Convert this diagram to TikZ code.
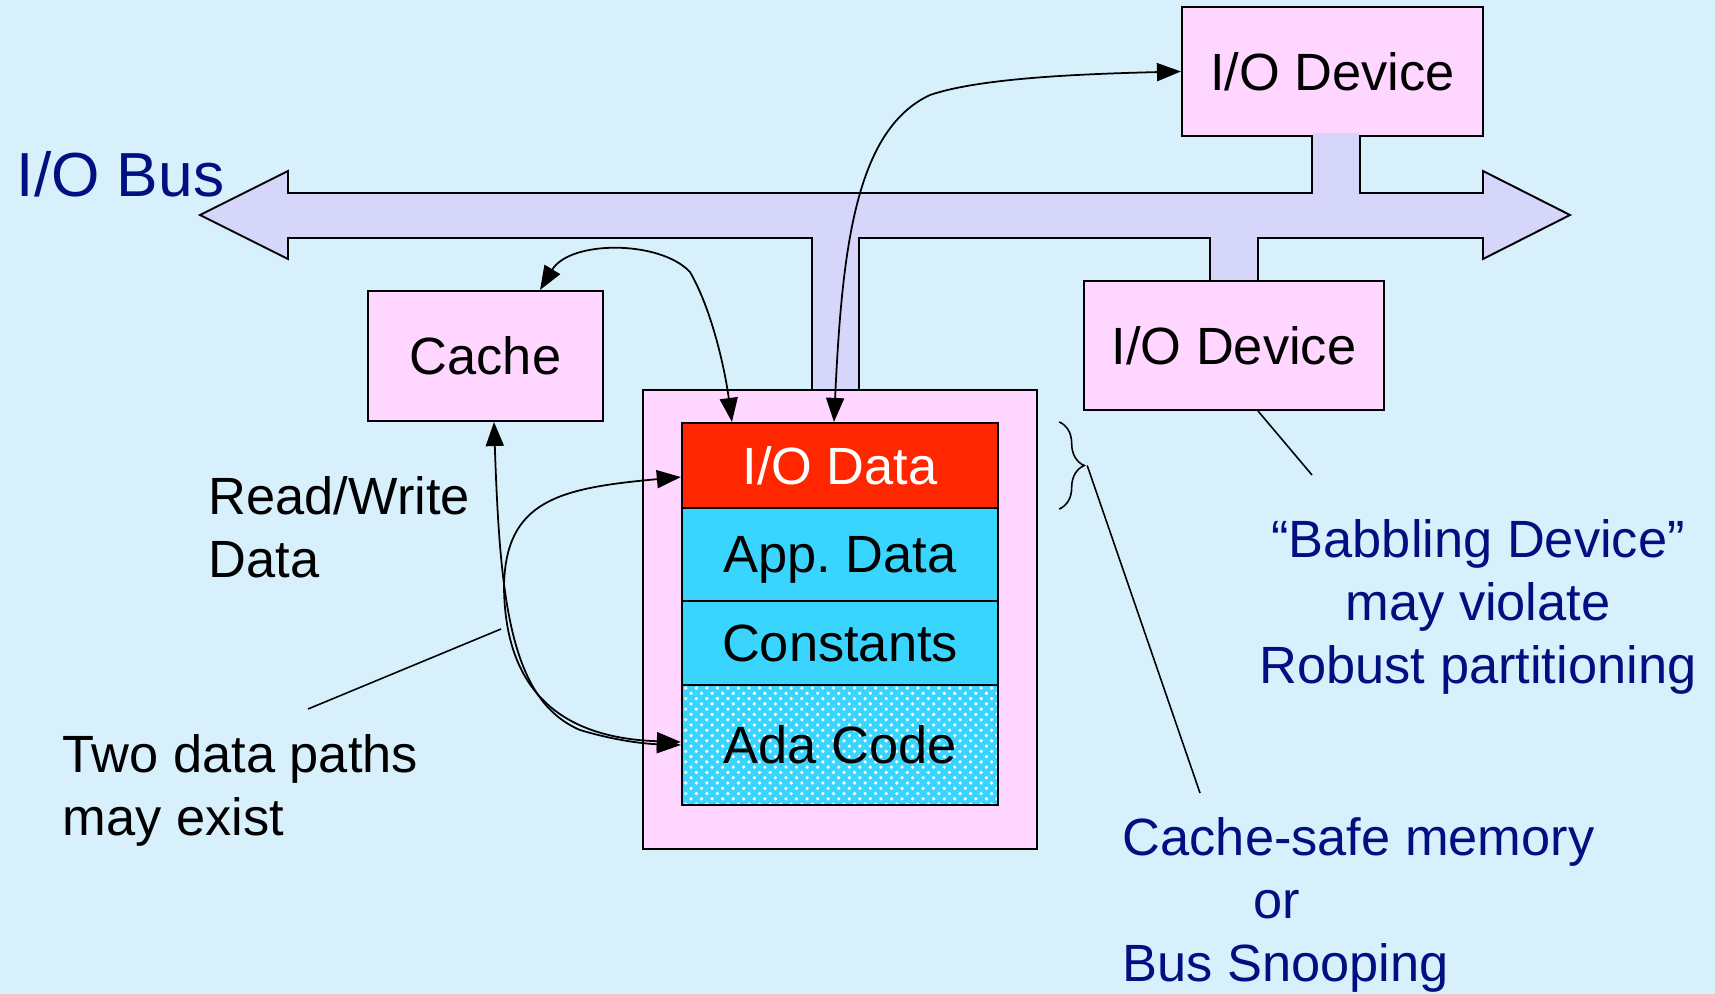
\documentclass[tikz,border=0pt]{standalone}
\usepackage{fontspec}
\setmainfont{Liberation Sans}
\usepackage{xcolor}
\usetikzlibrary{calc,arrows.meta,patterns,decorations.pathreplacing}
\definecolor{bgblue}{RGB}{216,240,252}
\definecolor{boxpink}{RGB}{255,214,255}
\definecolor{buslav}{RGB}{214,214,250}
\definecolor{iored}{RGB}{255,38,0}
\definecolor{segcyan}{RGB}{58,213,255}
\definecolor{notenavy}{RGB}{0,16,128}

\begin{document}
\begin{tikzpicture}[x=0.01cm, y=-0.01cm,
    box/.style={draw=black, line width=0.55pt, fill=boxpink, inner sep=0pt, font=\fontsize{14.9}{17.9}\selectfont},
    seg/.style={draw=black, line width=0.6pt, inner sep=0pt, text depth=0pt, minimum width=3.16cm, font=\fontsize{14.9}{17.9}\selectfont},
    note/.style={inner sep=0pt, align=left, font=\fontsize{14.9}{17.9}\selectfont},
    conn/.style={line width=0.5pt, {Triangle[length=0.24cm,width=0.18cm]}-{Triangle[length=0.24cm,width=0.18cm]}},
    lead/.style={line width=0.45pt}]
        \fill[bgblue] (0,0) rectangle (1715,994);
        \useasboundingbox (0,0) rectangle (1715,994);
        \draw[line width=0.55pt, fill=buslav] (200,215) -- (288,171) -- (288,193) -- (1312,193) -- (1312,136) -- (1360,136) -- (1360,193) -- (1483,193) -- (1483,171) -- (1570,215) -- (1483,259) -- (1483,238) -- (1258,238) -- (1258,281) -- (1210,281) -- (1210,238) -- (859,238) -- (859,390) -- (812,390) -- (812,238) -- (288,238) -- (288,259) -- cycle;
        \node[box, minimum width=3.01cm, minimum height=1.29cm] (devTop) at (1332.5,71.5) {I/O Device};
        \fill[buslav] (1313,133) rectangle (1359,139);
        \node[box, minimum width=3.00cm, minimum height=1.29cm] (devBot) at (1234,345.5) {I/O Device};
        \node[box, minimum width=2.35cm, minimum height=1.30cm] (cache) at (485.5,356) {Cache};
        \node[box, minimum width=3.94cm, minimum height=4.59cm] (mem) at (840,619.5) {};
        \node[seg, fill=iored, text=white, minimum height=0.85cm] (iodata) at (840,465.5) {I/O Data};
        \node[seg, fill=segcyan, minimum height=0.93cm] (appdata) at (840,554.5) {App.\ Data};
        \node[seg, fill=segcyan, minimum height=0.84cm] (consts) at (840,643) {Constants};
        \node[seg, preaction={fill=segcyan}, pattern=crosshatch dots, pattern color=white, minimum height=1.20cm] (adacode) at (840,745) {Ada Code};
        \node[font=\fontsize{17.7}{21}\selectfont, text=notenavy, inner sep=0pt, anchor=base west] (busLabel) at (16,197) {I/O Bus};
        \node[note, anchor=base west] (rwNote) at (208,577) {Read/Write\\Data};
        \node[note, anchor=base west] (pathNote) at (62,835) {Two data paths\\may exist};
        \node[note, align=center, text=notenavy, anchor=base] (babbleNote) at (1478,683) {“Babbling Device”\\may violate\\Robust partitioning};
        \node[note, text=notenavy, anchor=base west] (safeNote) at (1122,981) {Cache-safe memory\\\hspace*{1.31cm}or\\Bus Snooping};
        \draw[conn] ([xshift=0.545cm]cache.north) .. controls (570,240) and (660,240) .. (690,272) .. controls (712,310) and (725,370) .. ([xshift=-1.08cm]iodata.north);
        \draw[conn] ([xshift=-0.06cm]iodata.north) .. controls (842,250) and (855,130) .. (930,95) .. controls (980,78) and (1080,74) .. (devTop.west);
        \draw[conn] ([xshift=0.085cm]cache.south) .. controls (500,600) and (510,700) .. (580,730) .. controls (620,742) and (650,744) .. (adacode.west);
        \draw[conn] ([yshift=-0.115cm]iodata.west) .. controls (560,488) and (505,500) .. (504,587) .. controls (505,690) and (560,738) .. ([yshift=0.03cm]adacode.west);
        \coordinate (babbleEnd) at (1312,475);
        \draw[lead] ([xshift=0.24cm]devBot.south) -- (babbleEnd);
        \draw[decorate, decoration={brace, amplitude=0.25cm}, line width=0.45pt] ([xshift=0.6cm]iodata.north east) -- ([xshift=0.6cm]iodata.south east);
        \coordinate (braceTip) at ([xshift=0.88cm]iodata.east);
        \coordinate (safeEnd) at (1200,793);
        \draw[lead] (braceTip) -- (safeEnd);
        \coordinate (pathStart) at (308,709);
        \coordinate (pathEnd) at (501,629);
        \draw[lead] (pathStart) -- (pathEnd);
\end{tikzpicture}
\end{document}
